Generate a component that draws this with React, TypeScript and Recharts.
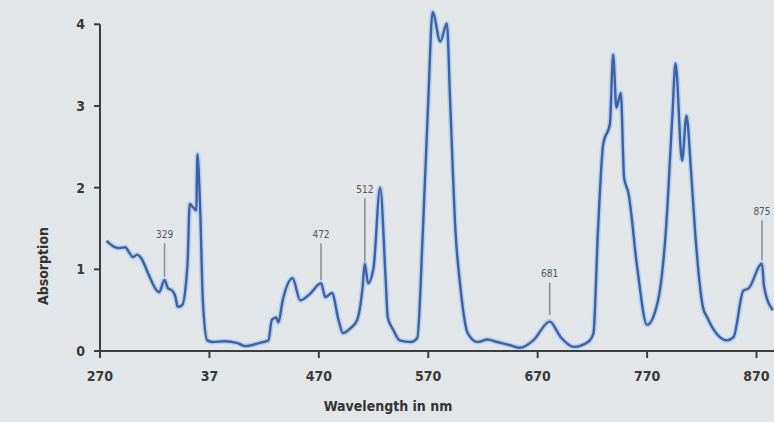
import React from 'react';
import { LineChart, Line, XAxis, YAxis, ReferenceLine, ReferenceDot } from 'recharts';

// spectrum (nm, absorption)
const wavelengths = [
  276, 284, 288, 293, 297, 300, 304, 308, 314, 322, 324, 329, 332, 336, 339, 341, 345, 350, 352, 355,
  358, 359, 361.5, 364, 368, 373, 384, 395, 403, 416, 424, 427, 431, 433, 437, 446, 453, 462, 472, 476,
  482, 488, 492, 499, 505, 510, 512, 515, 520, 526, 531, 533, 538, 544, 554, 560, 565, 570, 574, 581,
  587, 590, 595, 599, 606, 615, 624, 633, 645, 654, 666, 681, 691, 703, 716, 721, 725, 730, 736, 739,
  742, 746, 749, 753, 761, 770, 780, 787, 793, 796, 802, 806, 810, 814, 821, 825, 843, 849, 858, 863,
  875, 877, 885,
];
const absorption = [
  1.35, 1.27, 1.26, 1.27, 1.2, 1.15, 1.18, 1.13, 0.95, 0.74, 0.72, 0.87, 0.77, 0.74, 0.66, 0.54, 0.56, 1.07, 1.8, 1.76,
  1.72, 2.41, 1.76, 0.62, 0.13, 0.11, 0.12, 0.1, 0.06, 0.1, 0.13, 0.38, 0.41, 0.35, 0.62, 0.89, 0.62, 0.7, 0.83, 0.66,
  0.71, 0.38, 0.22, 0.28, 0.38, 0.78, 1.07, 0.83, 1.02, 2.0, 0.9, 0.41, 0.26, 0.13, 0.11, 0.16, 1.44, 3.06, 4.15, 3.79,
  4.01, 3.06, 1.44, 0.83, 0.22, 0.11, 0.14, 0.11, 0.07, 0.04, 0.13, 0.36, 0.17, 0.05, 0.11, 0.22, 1.44, 2.54, 2.78, 3.63,
  2.98, 3.16, 2.12, 1.93, 1.02, 0.32, 0.62, 1.44, 2.85, 3.52, 2.33, 2.88, 2.24, 1.44, 0.54, 0.41, 0.13, 0.17, 0.74, 0.77,
  1.07, 0.78, 0.5,
];

const xTicks = [270, 370, 470, 570, 670, 770, 870];
const xTickLabels = ['270', '37', '470', '570', '670', '770', '870'];
const yTicks = [0, 1, 2, 3, 4];

// labelled peaks: marker line runs from base up to top
const peakWavelengths = [329, 472, 512, 681, 875];
const peakBase = [0.91, 0.87, 1.08, 0.44, 1.11];
const peakTop = [1.32, 1.32, 1.87, 0.84, 1.6];

const data = wavelengths.map((wl, i) => ({ wl, abs: absorption[i] }));

const FONT = "'DejaVu Sans Condensed', 'Liberation Sans Narrow', sans-serif";
const AXIS = '#3d3d3d';
const tickStyle = { fill: '#3a3a3a', fontSize: 14, fontFamily: FONT, fontWeight: 700 };

export default function App() {
  return (
    <div style={{ position: 'absolute', left: 0, top: 0, width: 774, height: 422, background: '#e2e6e9' }}>
      <LineChart width={774} height={422} data={data} margin={{ top: 8, right: 0, bottom: 0, left: 0 }}>
        <XAxis
          dataKey="wl"
          type="number"
          domain={[270, 886]}
          ticks={xTicks}
          tickFormatter={(v: number) => xTickLabels[xTicks.indexOf(v)]}
          allowDataOverflow
          height={71}
          stroke={AXIS}
          strokeWidth={2}
          tickSize={7}
          tickMargin={13}
          tick={tickStyle}
          label={() => (
            <text x={388} y={411} textAnchor="middle" fill="#333" fontSize={14} fontWeight={700} fontFamily={FONT}>
              Wavelength in nm
            </text>
          )}
        />
        <YAxis
          type="number"
          domain={[0, 4.2]}
          ticks={yTicks}
          allowDataOverflow
          width={100}
          axisLine={false}
          stroke={AXIS}
          tickLine={{ stroke: AXIS, strokeWidth: 2 }}
          tickSize={6}
          tickMargin={9}
          tick={tickStyle}
          label={() => (
            <text
              x={48}
              y={266}
              transform="rotate(-90 48 266)"
              textAnchor="middle"
              fill="#333"
              fontSize={14}
              fontWeight={700}
              fontFamily={FONT}
            >
              Absorption
            </text>
          )}
        />
        <ReferenceLine
          segment={[{ x: 270, y: 0 }, { x: 270, y: 4 }]}
          stroke={AXIS}
          strokeWidth={2}
        />
        {peakWavelengths.map((wl, i) => (
          <ReferenceLine
            key={'pl' + wl}
            segment={[{ x: wl, y: peakBase[i] }, { x: wl, y: peakTop[i] }]}
            stroke="#8a8d90"
            strokeWidth={1.5}
          />
        ))}
        {peakWavelengths.map((wl, i) => (
          <ReferenceDot
            key={'pd' + wl}
            x={wl}
            y={peakTop[i]}
            r={1}
            fill="none"
            stroke="none"
            label={{ value: String(wl), position: 'top', offset: 4, fill: '#555', fontSize: 10, fontFamily: FONT }}
          />
        ))}
        <Line
          type="monotone"
          dataKey="abs"
          stroke="#a9c9ee"
          strokeWidth={5.5}
          strokeOpacity={0.7}
          dot={false}
          activeDot={false}
          isAnimationActive={false}
        />
        <Line
          type="monotone"
          dataKey="abs"
          stroke="#3c62a4"
          strokeWidth={2.4}
          dot={false}
          activeDot={false}
          isAnimationActive={false}
        />
      </LineChart>
    </div>
  );
}
